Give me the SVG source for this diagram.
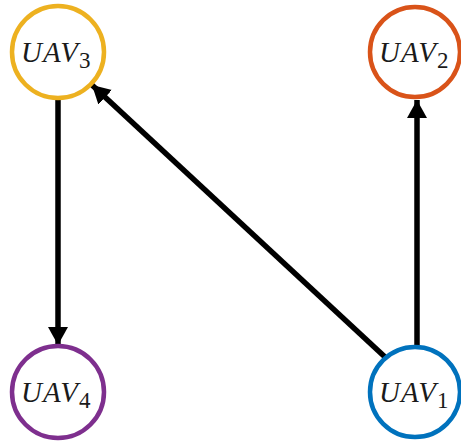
<svg xmlns="http://www.w3.org/2000/svg" width="461" height="441" viewBox="0 0 461 441">
  <style>
    .node { fill: #ffffff; stroke-width: 4.5; }
    .lbl { font-family: "Liberation Serif", "DejaVu Serif", serif; font-style: italic; font-size: 29px; letter-spacing: 1px; fill: #1a1a1a; }
    .sub { font-style: normal; font-size: 23px; letter-spacing: 0; }
    .edge { stroke: #000000; stroke-width: 5.5; fill: none; marker-end: url(#arrow); }
  </style>
  <defs>
    <marker id="arrow" markerUnits="userSpaceOnUse" markerWidth="20" markerHeight="20" refX="18" refY="10" orient="auto">
      <path d="M0,0 L18,10 L0,20 Z" fill="#000000"/>
    </marker>
  </defs>

  <g id="edges">
    <line class="edge" x1="58" y1="100" x2="58" y2="345"/>
    <line class="edge" x1="417" y1="346" x2="417" y2="100"/>
    <line class="edge" x1="385" y1="357" x2="92" y2="85"/>
  </g>

  <g id="uav3">
    <circle class="node" cx="58" cy="52" r="46" stroke="#EDB120"/>
    <text class="lbl" x="21" y="62">UAV<tspan class="sub" dy="6">3</tspan></text>
  </g>
  <g id="uav2">
    <circle class="node" cx="415" cy="52" r="45" stroke="#D95319"/>
    <text class="lbl" x="379" y="62">UAV<tspan class="sub" dy="6">2</tspan></text>
  </g>
  <g id="uav4">
    <circle class="node" cx="58" cy="392" r="46" stroke="#7E2F8E"/>
    <text class="lbl" x="21" y="402">UAV<tspan class="sub" dy="6">4</tspan></text>
  </g>
  <g id="uav1">
    <circle class="node" cx="415" cy="392" r="45" stroke="#0072BD"/>
    <text class="lbl" x="379" y="402">UAV<tspan class="sub" dy="6">1</tspan></text>
  </g>
</svg>
